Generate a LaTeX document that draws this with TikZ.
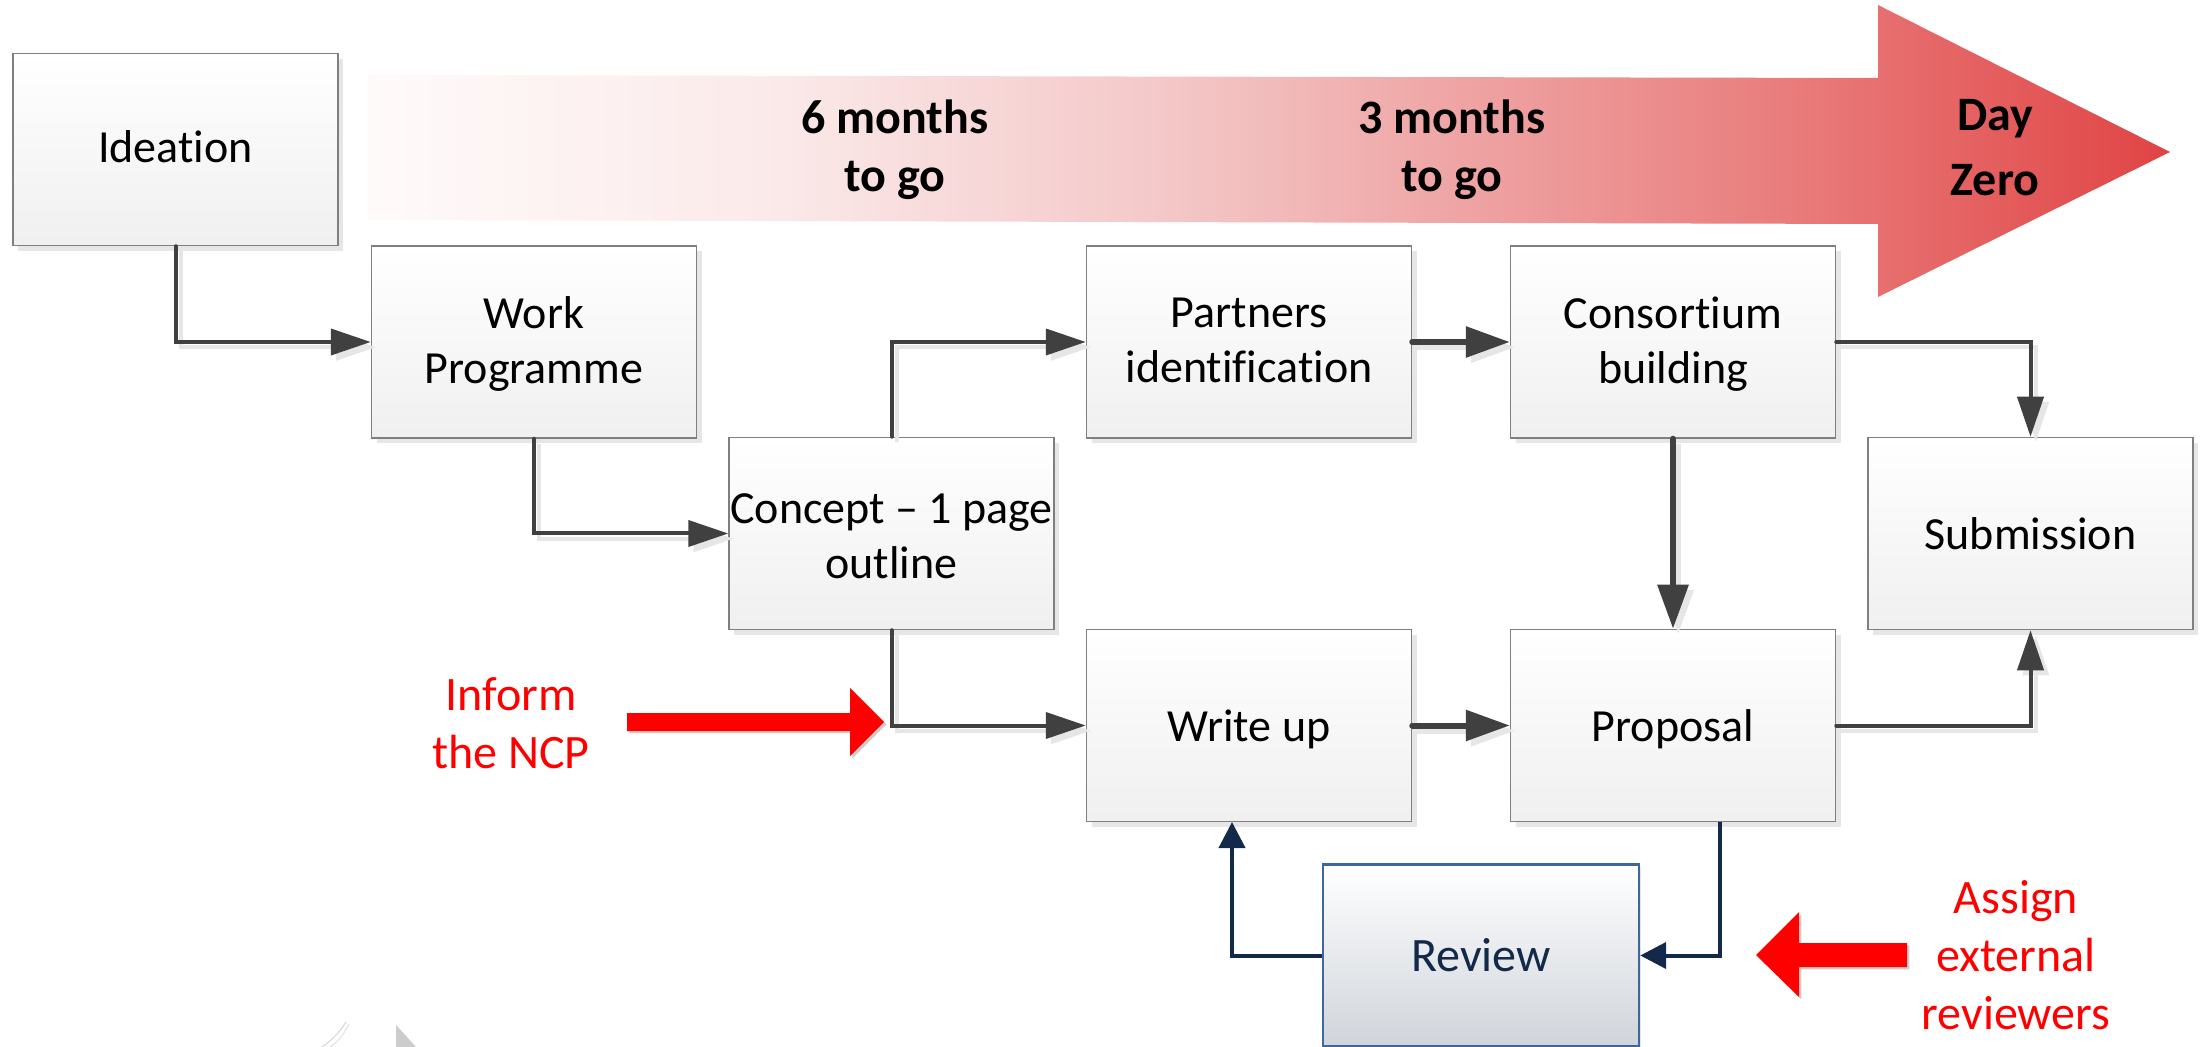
\documentclass[tikz,border=0pt]{standalone}
\usepackage{fontspec}
\setmainfont{Carlito}[Ligatures=NoCommon]
\usetikzlibrary{arrows.meta,shadows,calc}
\definecolor{linedark}{HTML}{404040}
\definecolor{shadowgray}{HTML}{E6E6E6}
\definecolor{boxedge}{HTML}{7F7F7F}
\definecolor{navy}{HTML}{12294A}
\definecolor{navyedge}{HTML}{3F6797}
\definecolor{bandO}{HTML}{FFFAFA}
\definecolor{bandA}{HTML}{FBEAEA}
\definecolor{bandB}{HTML}{F4C8C8}
\definecolor{bandC}{HTML}{E97B7B}
\definecolor{bandD}{HTML}{E04444}
\pgfdeclarehorizontalshading{bandshade}{100bp}{
  color(0bp)=(bandO); color(25bp)=(bandO);
  color(36bp)=(bandA);
  color(47bp)=(bandB);
  color(64.7bp)=(bandC);
  color(75bp)=(bandD);
  color(100bp)=(bandD)}
\tikzset{
  flowbox/.style={draw=boxedge,line width=0.75pt,top color=white,bottom color=black!6,
    minimum width=162.5pt,minimum height=96pt,inner sep=0pt,align=center,text depth=0pt,
    font=\fontsize{23}{27.5}\selectfont,
    drop shadow={shadow xshift=2.7pt,shadow yshift=-2.7pt,fill=shadowgray,opacity=1}},
  reviewbox/.style={draw=navyedge,line width=1.2pt,top color=white,bottom color=navy!20,
    text=navy,minimum width=158pt,minimum height=91pt,inner sep=0pt,
    font=\fontsize{24}{27.5}\selectfont,
    drop shadow={shadow xshift=1pt,shadow yshift=-1pt,fill=shadowgray,opacity=1}},
  conn/.style={draw=linedark,line width=2pt,line cap=round,-{Triangle[length=20pt,width=13pt]}},
  connthick/.style={draw=linedark,line width=3pt,line cap=round,-{Triangle[length=22pt,width=15pt]}},
  connnavy/.style={draw=navy,line width=2pt,-{Triangle[length=13pt,width=13pt]}},
  connshadow/.style={draw=shadowgray,line width=2pt,-{Triangle[length=20pt,width=13pt]},
    transform canvas={shift={(2.6pt,-2.6pt)}}},
  connthickshadow/.style={draw=shadowgray,line width=3pt,-{Triangle[length=22pt,width=15pt]},
    transform canvas={shift={(2.6pt,-2.6pt)}}},
  banner/.style={font=\fontsize{24}{29}\selectfont\bfseries,align=center,text depth=0pt},
  bannerday/.style={font=\fontsize{24}{32.5}\selectfont\bfseries,align=center,text depth=0pt},
  note/.style={text=red,font=\fontsize{24}{29}\selectfont,align=center},
  redarrow/.style={fill=red,draw=none,drop shadow={shadow xshift=1.2pt,shadow yshift=-1.2pt,fill=black!20,opacity=1}}
}
\begin{document}
\begin{tikzpicture}[x=0.5pt,y=-0.5pt]
\useasboundingbox (0,0) rectangle (2206,1047);
\fill[white] (0,0) rectangle (2206,1047);
% faint mark at the bottom
\draw[black!14,line width=0.6pt] (322,1047) .. controls (332,1040) and (340,1032) .. (346,1022);
\draw[black!10,line width=0.6pt] (330,1047) .. controls (338,1042) and (344,1034) .. (349,1024);
\fill[black!20] (396,1025) -- (416,1047) -- (396,1047) -- cycle;
% big time arrow
\path[shading=bandshade]
  (368,75) -- (1878,78) -- (1878,5) -- (2170,152) -- (1878,297) -- (1878,224) -- (368,220) -- cycle;
\node[banner] (six) at (895,146) {6 months\\to go};
\node[banner] (three) at (1452,146) {3 months\\to go};
\node[bannerday] (day) at (1995,147) {Day\\Zero};
% boxes
\node[flowbox,text depth=3pt] (ideation) at (175.5,149.5) {Ideation};
\node[flowbox,text depth=2pt] (work) at (534,342) {Work\\Programme};
\node[flowbox] (concept) at (891.5,533.5) {\rule{0pt}{18pt}Concept – 1 page\\outline};
\node[flowbox,text depth=2pt] (partners) at (1249,342) {Partners\\identification};
\node[flowbox,text depth=2pt] (consortium) at (1673,342) {Consortium\\building};
\node[flowbox] (submission) at (2030.5,533.5) {Submission};
\node[flowbox] (write) at (1249,725.5) {Write up};
\node[flowbox] (proposal) at (1673,725.5) {Proposal};
\node[reviewbox] (review) at (1481,955.5) {Review};
% named ends off the middle of a side
\coordinate (wuin) at (1232,822);
\coordinate (prout) at (1720,822);
% connector shadows
\draw[connshadow] (ideation.south) |- (work.west);
\draw[connshadow] (work.south) |- (concept.west);
\draw[connshadow] (concept.north) |- (partners.west);
\draw[connshadow] (concept.south) |- (write.west);
\draw[connthickshadow] (partners.east) -- (consortium.west);
\draw[connthickshadow] (write.east) -- (proposal.west);
\draw[connshadow] (consortium.east) -| (submission.north);
\draw[connshadow] (proposal.east) -| (submission.south);
\draw[connthickshadow] (consortium.south) -- (proposal.north);
% connectors
\draw[conn] (ideation.south) |- (work.west);
\draw[conn] (work.south) |- (concept.west);
\draw[conn] (concept.north) |- (partners.west);
\draw[conn] (concept.south) |- (write.west);
\draw[connthick] (partners.east) -- (consortium.west);
\draw[connthick] (write.east) -- (proposal.west);
\draw[conn] (consortium.east) -| (submission.north);
\draw[conn] (proposal.east) -| (submission.south);
\draw[connthick] (consortium.south) -- (proposal.north);
\draw[connnavy] (review.west) -| (wuin);
\draw[connnavy] (prout) |- (review.east);
% red arrows and notes
\path[redarrow] (627,713) -- (850,713) -- (850,688) -- (884,722) -- (850,756) -- (850,731) -- (627,731) -- cycle;
\path[redarrow] (1907,943) -- (1799,943) -- (1799,912) -- (1756,955) -- (1799,997) -- (1799,967) -- (1907,967) -- cycle;
\node[note] (inform) at (511,723) {Inform\\the NCP};
\node[note] (assign) at (2016,955) {Assign\\external\\reviewers};
\end{tikzpicture}
\end{document}
